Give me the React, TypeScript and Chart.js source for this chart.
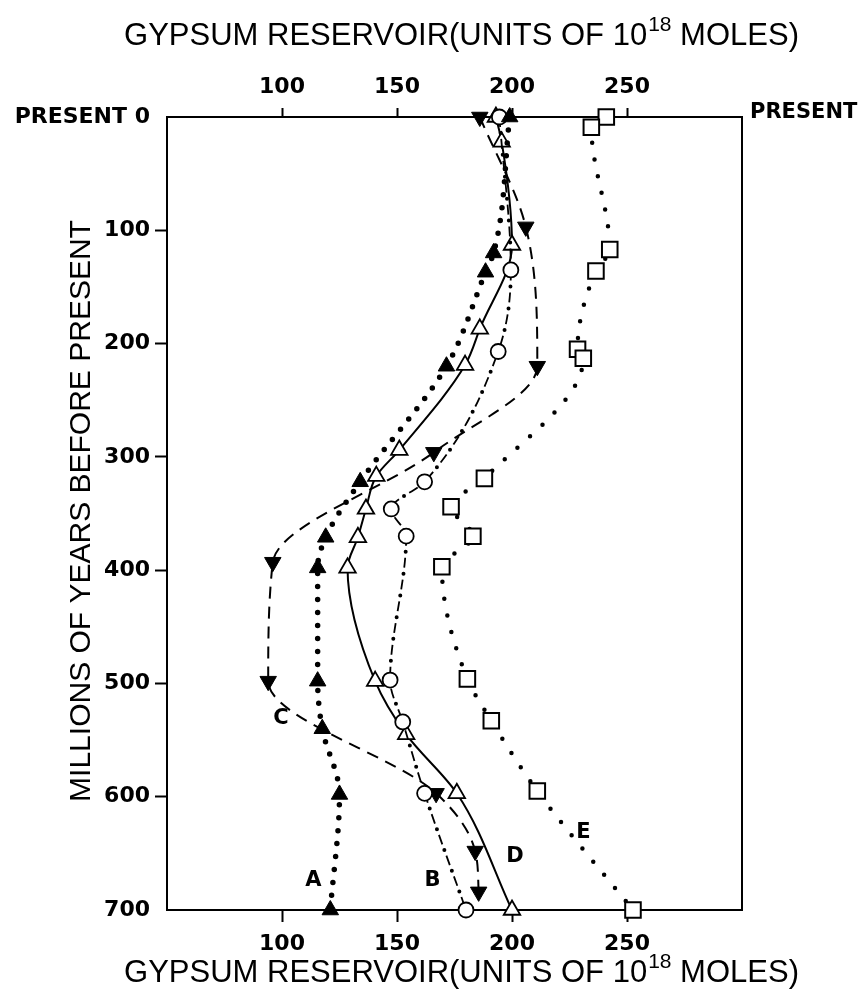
import React, { useEffect, useRef } from 'react';
import { Chart, registerables } from 'chart.js';

Chart.register(...registerables);

// ---- data (age in millions of years before present, gypsum reservoir in 10^18 moles) ----
const ageA = [0, 120, 137, 220, 322, 371, 398, 498, 540, 598, 700];
const gypA = [199, 192, 188.5, 171.5, 134, 119, 115.5, 115.5, 117.5, 125, 121];

const ageB = [0, 135, 207, 322, 346, 370, 497, 534, 597, 700];
const gypB = [194.5, 199.5, 194, 162, 147.5, 154, 147, 152.5, 162, 180];

const ageC = [0, 97, 220, 296, 393, 498, 597, 648, 684];
const gypC = [186, 206, 211, 166, 96, 94, 167, 184, 185.5];

const ageD = [0, 22, 113, 187, 219, 294, 317, 346, 371, 398, 498, 545, 597, 700];
const gypD = [193, 195.5, 200, 186, 179.6, 151, 141, 136.5, 133, 128.5, 140.5, 154, 176, 200];

const ageE = [0, 9, 117, 136, 205, 213, 319, 344, 370, 397, 496, 533, 595, 700];
const gypE = [241, 234.5, 242.5, 236.5, 228.5, 231, 188, 173.5, 183, 169.5, 180.6, 191, 211, 252.6];

const xTicks = [100, 150, 200, 250];
const yTicks = [0, 100, 200, 300, 400, 500, 600, 700];

const curveLabels = ['A', 'B', 'C', 'D', 'E'];
const labelGyp = [113.6, 165.4, 99.5, 201.3, 231.1];
const labelAge = [674, 674, 531, 653, 632];

const titlePre = 'GYPSUM RESERVOIR(UNITS OF 10';
const titleSup = '18';
const titlePost = ' MOLES)';
const yTitle = 'MILLIONS OF YEARS BEFORE PRESENT';
const rightLabel = 'PRESENT';

const W = 862;
const H = 1005;

const tickFont = { family: '"DejaVu Sans"', size: 22, weight: 'bold' as const };

function pts(xs: number[], ys: number[]) {
  return ys.map((y, i) => ({ x: xs[i], y }));
}

function drawTitle(ctx: CanvasRenderingContext2D, cx: number, cy: number, angle: number) {
  const mainFont = '31px "Liberation Sans"';
  const supFont = '21px "Liberation Sans"';
  ctx.save();
  ctx.font = mainFont;
  const w1 = ctx.measureText(titlePre).width;
  const w3 = ctx.measureText(titlePost).width;
  ctx.font = supFont;
  const w2 = ctx.measureText(titleSup).width;
  const total = w1 + w2 + w3;
  ctx.translate(cx, cy);
  ctx.rotate(angle);
  ctx.fillStyle = '#000';
  ctx.textBaseline = 'alphabetic';
  ctx.textAlign = 'left';
  const x = -total / 2;
  ctx.font = mainFont;
  ctx.fillText(titlePre, x, 0);
  ctx.font = supFont;
  ctx.fillText(titleSup, x + w1 + 1, -14);
  ctx.font = mainFont;
  ctx.fillText(titlePost, x + w1 + w2 + 1, 0);
  ctx.restore();
}

const decor = {
  id: 'decor',
  beforeDatasetsDraw(chart: any) {
    const { ctx, chartArea: a } = chart;
    ctx.save();
    ctx.strokeStyle = '#000';
    ctx.lineWidth = 2;
    ctx.strokeRect(a.left, a.top, a.right - a.left, a.bottom - a.top);
    ctx.restore();
  },
  afterDraw(chart: any) {
    const { ctx, chartArea: a } = chart;
    const xs = chart.scales.x;
    const ys = chart.scales.y;
    drawTitle(ctx, 461, 45, 0);
    drawTitle(ctx, 461, 982, 0);
    ctx.save();
    ctx.translate(90, 511);
    ctx.rotate(-Math.PI / 2);
    ctx.font = '30px "Liberation Sans"';
    ctx.fillStyle = '#000';
    ctx.textAlign = 'center';
    ctx.textBaseline = 'alphabetic';
    ctx.fillText(yTitle, 0, 0);
    ctx.restore();
    ctx.save();
    ctx.font = 'bold 21px "DejaVu Sans"';
    ctx.fillStyle = '#000';
    ctx.textAlign = 'left';
    ctx.textBaseline = 'middle';
    ctx.fillText(rightLabel, a.right + 8, a.top - 4);
    ctx.restore();
    ctx.save();
    ctx.font = 'bold 21px "DejaVu Sans"';
    ctx.fillStyle = '#000';
    ctx.textAlign = 'center';
    ctx.textBaseline = 'middle';
    curveLabels.forEach((t, i) => {
      ctx.fillText(t, xs.getPixelForValue(labelGyp[i]), ys.getPixelForValue(labelAge[i]));
    });
    ctx.restore();
  },
};

export default function App() {
  const ref = useRef<HTMLCanvasElement>(null);
  useEffect(() => {
    const common = {
      xAxisID: 'x',
      yAxisID: 'y',
      borderColor: '#000',
      clip: false,
      cubicInterpolationMode: 'monotone' as const,
      pointBorderColor: '#000',
    };
    const chart = new Chart(ref.current as HTMLCanvasElement, {
      type: 'line',
      data: {
        datasets: [
          {
            ...common,
            label: 'A',
            data: pts(gypA, ageA),
            borderWidth: 5.5,
            borderDash: [0, 13],
            borderCapStyle: 'round',
            pointStyle: 'triangle',
            pointRadius: 9.5,
            pointBackgroundColor: '#000',
            pointBorderWidth: 1,
          },
          {
            ...common,
            label: 'B',
            data: pts(gypB, ageB),
            borderWidth: 1.8,
            borderDash: [10, 12],
            pointStyle: 'circle',
            pointRadius: 7.5,
            pointBackgroundColor: '#fff',
            pointBorderWidth: 1.8,
          },
          {
            ...common,
            label: 'B-dots',
            data: pts(gypB, ageB),
            borderWidth: 4,
            borderDash: [0, 22],
            borderDashOffset: 6,
            borderCapStyle: 'round',
            pointRadius: 0,
          },
          {
            ...common,
            label: 'C',
            data: pts(gypC, ageC),
            borderWidth: 2,
            borderDash: [12, 8],
            pointStyle: 'triangle',
            pointRotation: 180,
            pointRadius: 9.5,
            pointBackgroundColor: '#000',
            pointBorderWidth: 1,
          },
          {
            ...common,
            label: 'D',
            data: pts(gypD, ageD),
            borderWidth: 2,
            pointStyle: 'triangle',
            pointRadius: 9.5,
            pointBackgroundColor: '#fff',
            pointBorderWidth: 1.8,
          },
          {
            ...common,
            label: 'E',
            data: pts(gypE, ageE),
            borderWidth: 4.5,
            borderDash: [0, 17],
            borderCapStyle: 'round',
            pointStyle: 'rect',
            pointRadius: 11,
            pointBackgroundColor: '#fff',
            pointBorderWidth: 2,
          },
        ],
      },
      options: {
        animation: false,
        responsive: false,
        devicePixelRatio: 1,
        indexAxis: 'y',
        events: [],
        layout: { padding: { left: 0, top: 0, right: 120, bottom: 0 } },
        plugins: { legend: { display: false }, tooltip: { enabled: false } },
        scales: {
          y: {
            type: 'linear',
            position: 'left',
            reverse: true,
            min: 0,
            max: 700,
            afterBuildTicks: (s: any) => { s.ticks = yTicks.map((v) => ({ value: v })); },
            afterFit: (s: any) => { s.width = 167; },
            border: { display: false },
            grid: {
              drawOnChartArea: false,
              drawTicks: true,
              tickLength: 12,
              tickWidth: 2,
              tickColor: (c: any) => (c.tick && (c.tick.value === 0 || c.tick.value === 700) ? 'rgba(0,0,0,0)' : '#000'),
            },
            ticks: {
              color: '#000',
              font: tickFont,
              padding: 5,
              callback: (v: any) => (v === 0 ? 'PRESENT 0' : String(v)),
            },
          },
          x: {
            type: 'linear',
            position: 'bottom',
            min: 50,
            max: 300,
            afterBuildTicks: (s: any) => { s.ticks = xTicks.map((v) => ({ value: v })); },
            afterFit: (s: any) => { s.height = 95; },
            border: { display: false },
            grid: { drawOnChartArea: false, drawTicks: true, tickLength: 12, tickWidth: 2, tickColor: '#000' },
            ticks: { color: '#000', font: tickFont, padding: 9, maxRotation: 0 },
          },
          x2: {
            type: 'linear',
            position: 'top',
            min: 50,
            max: 300,
            afterBuildTicks: (s: any) => { s.ticks = xTicks.map((v) => ({ value: v })); },
            afterFit: (s: any) => { s.height = 117; },
            border: { display: false },
            grid: { drawOnChartArea: false, drawTicks: true, tickLength: 9, tickWidth: 2, tickColor: '#000' },
            ticks: { color: '#000', font: tickFont, padding: 8, maxRotation: 0 },
          },
        },
      },
      plugins: [decor],
    } as any);
    return () => chart.destroy();
  }, []);
  return (
    <div style={{ position: 'fixed', left: 0, top: 0, width: W, height: H, background: '#fff' }}>
      <canvas ref={ref} width={W} height={H} style={{ display: 'block', width: W, height: H }} />
    </div>
  );
}
